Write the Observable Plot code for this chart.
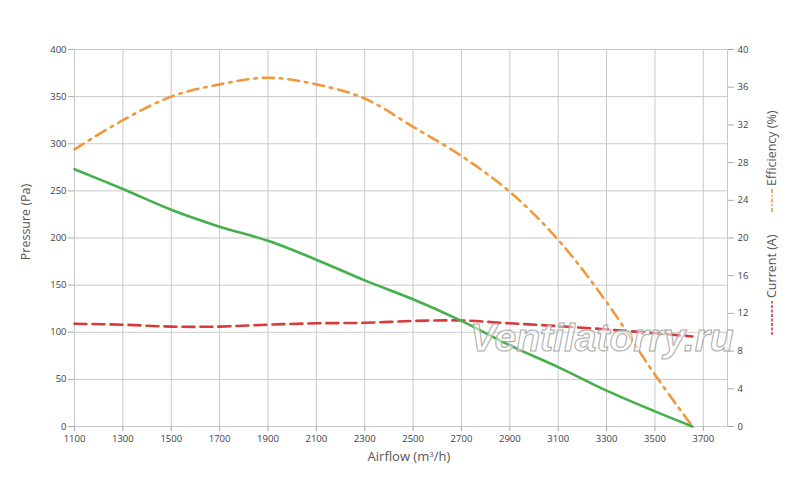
<!DOCTYPE html>
<html>
<head>
<meta charset="utf-8">
<script src="https://cdn.jsdelivr.net/npm/d3@7"></script>
<script src="https://cdn.jsdelivr.net/npm/@observablehq/plot@0.6"></script>
<style>
  html, body { margin: 0; padding: 0; background: #fff; }
  #chart { position: relative; width: 800px; height: 482px; }
</style>
</head>
<body>
<div id="chart"></div>
<script>
// Data
const airflow    = [1100, 1300, 1500, 1700, 1900, 2100, 2300, 2500, 2700, 2900, 3100, 3300, 3500, 3655];
const pressure   = [273, 252, 230, 212, 197, 177, 155, 135, 112, 86, 63, 38, 16, 0];      // Pa
const efficiency = [29.4, 32.5, 35.0, 36.3, 37.0, 36.3, 34.8, 31.8, 28.7, 24.9, 19.8, 13.2, 5.5, 0]; // %
const current    = [10.9, 10.8, 10.6, 10.6, 10.8, 10.95, 11.0, 11.2, 11.25, 10.95, 10.65, 10.3, 9.9, 9.55]; // A

const xTicks = [1100, 1300, 1500, 1700, 1900, 2100, 2300, 2500, 2700, 2900, 3100, 3300, 3500, 3700];
const yTicks = [0, 50, 100, 150, 200, 250, 300, 350, 400];
const rightTicks = [0, 4, 8, 12, 16, 20, 24, 28, 32, 36, 40];

const rows = airflow.map((a, i) => ({airflow: a, pressure: pressure[i], efficiency: efficiency[i], current: current[i]}));
const R = 10; // right axis (0–40) maps onto pressure scale (0–400)

const grid = "#c9c9c9";
const font = "'Open Sans', sans-serif";

const svg = Plot.plot({
  width: 800,
  height: 482,
  marginLeft: 74,
  marginRight: 73,
  marginTop: 49,
  marginBottom: 56,
  style: {fontFamily: font, fontSize: "9.5px", color: "#404040", background: "#fff"},
  x: {domain: [1100, 3800], label: null},
  y: {domain: [0, 400], label: null},
  marks: [
    Plot.gridX(xTicks, {stroke: grid, strokeOpacity: 1}),
    Plot.gridY(yTicks, {stroke: grid, strokeOpacity: 1}),
    Plot.frame({stroke: grid}),
    Plot.axisX({ticks: xTicks, tickSize: 5, tickPadding: 4, tickFormat: d => String(d), stroke: "#aaa", fill: "#404040", label: null}),
    Plot.axisY({anchor: "left", ticks: yTicks, tickSize: 6, tickPadding: 2, stroke: "#aaa", fill: "#404040", label: null}),
    Plot.axisY({anchor: "right", ticks: rightTicks.map(d => d * R), tickFormat: d => String(d / R), tickSize: 6, tickPadding: 4, stroke: "#aaa", fill: "#404040", label: null}),
    Plot.line(rows, {x: "airflow", y: d => d.current * R, stroke: "#d63b3b", strokeWidth: 2.6, strokeDasharray: "12,6", curve: "catmull-rom"}),
    Plot.line(rows, {x: "airflow", y: d => d.efficiency * R, stroke: "#f0983e", strokeWidth: 2.6, strokeDasharray: "11,6,2.5,6", curve: "catmull-rom"}),
    Plot.line(rows, {x: "airflow", y: "pressure", stroke: "#45b04b", strokeWidth: 2.6, curve: "catmull-rom"})
  ]
});

document.getElementById("chart").appendChild(svg);

const s = d3.select(svg);
// axis titles
s.append("text").attr("transform", "translate(30,222) rotate(-90)")
  .attr("text-anchor", "middle").attr("font-family", font).attr("font-size", "12.5px").attr("fill", "#555")
  .text("Pressure (Pa)");
s.append("text").attr("x", 409).attr("y", 461)
  .attr("text-anchor", "middle").attr("font-family", font).attr("font-size", "13px").attr("fill", "#555")
  .html("Airflow (m<tspan dy='-4' font-size='8px'>3</tspan><tspan dy='4'>/h)</tspan>");

// right-side titles with legend samples
s.append("text").attr("transform", "translate(776,186) rotate(-90)")
  .attr("text-anchor", "start").attr("font-family", font).attr("font-size", "12.5px").attr("fill", "#555")
  .text("Efficiency (%)");
s.append("line").attr("x1", 772).attr("x2", 772).attr("y1", 212).attr("y2", 189)
  .attr("stroke", "#f0983e").attr("stroke-width", 1.6).attr("stroke-dasharray", "4,2,1.5,2");
s.append("text").attr("transform", "translate(776,298) rotate(-90)")
  .attr("text-anchor", "start").attr("font-family", font).attr("font-size", "12.5px").attr("fill", "#555")
  .text("Current (A)");
s.append("line").attr("x1", 772).attr("x2", 772).attr("y1", 335).attr("y2", 301)
  .attr("stroke", "#d63b3b").attr("stroke-width", 1.6).attr("stroke-dasharray", "3,1.5");

// watermark
s.append("text").attr("x", 470).attr("y", 351)
  .attr("text-anchor", "start")
  .attr("font-family", "'Liberation Sans', Arial, sans-serif").attr("font-size", "39px")
  .attr("font-style", "italic").attr("font-weight", "bold")
  .attr("fill", "#ffffff").attr("fill-opacity", 0.55)
  .attr("stroke", "#a8a8a8").attr("stroke-width", 1)
  .text("Ventilatorry.ru");
</script>
</body>
</html>
